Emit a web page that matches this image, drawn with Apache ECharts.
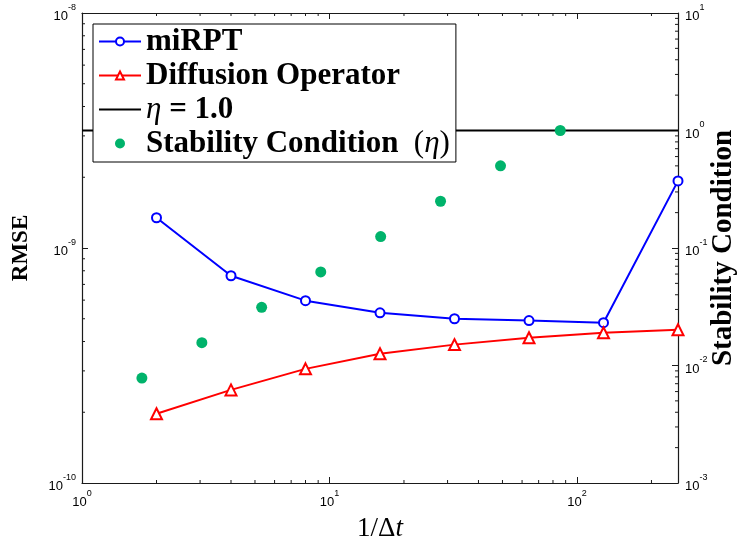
<!DOCTYPE html>
<html><head><meta charset="utf-8">
<script src="https://cdn.jsdelivr.net/npm/echarts@6/dist/echarts.min.js"></script>
<style>html,body{margin:0;padding:0;background:#fff}#c{width:741px;height:539px}</style>
</head><body><div id="c"></div>
<script>
// ---- data ----
const dtInv = [2, 4, 8, 16, 32, 64, 128, 256];
const rmseMiRPT = [1.345e-9, 7.62e-10, 5.97e-10, 5.30e-10, 5.00e-10, 4.91e-10, 4.81e-10, 1.93e-9];
const rmseDiffusion = [1.97e-10, 2.49e-10, 3.06e-10, 3.55e-10, 3.88e-10, 4.15e-10, 4.36e-10, 4.49e-10];
const etaX = [1.746, 3.05, 5.32, 9.22, 16.1, 28.1, 49.1, 85.6];
const etaValues = [0.0078125, 0.015625, 0.03125, 0.0625, 0.125, 0.25, 0.5, 1.0];
const etaLineX = [1, 256];
const etaLineValue = 1.0;
const xRange = [1, 256];
const leftRange = [1e-10, 1e-8];
const rightRange = [1e-3, 10];
const minorMultipliers = [2, 3, 4, 5, 6, 7, 8, 9];

function minorTicks(range) {
  const out = [];
  const e0 = Math.floor(Math.log10(range[0]) + 1e-9);
  const e1 = Math.ceil(Math.log10(range[1]) - 1e-9);
  for (let e = e0; e < e1; e++) {
    minorMultipliers.forEach(m => {
      const v = m * Math.pow(10, e);
      if (v > range[0] && v < range[1]) out.push(v);
    });
  }
  return out;
}

function powLabel(v) {
  const l = Math.log10(v);
  const e = Math.round(l);
  if (Math.abs(l - e) > 1e-6) return '';
  return '{b|10}{s|' + e + '}';
}
const labelRich = {
  b: { fontFamily: 'Liberation Sans', fontSize: 13, color: '#000', lineHeight: 20, verticalAlign: 'bottom' },
  s: { fontFamily: 'Liberation Sans', fontSize: 9, color: '#000', lineHeight: 20, verticalAlign: 'top' }
};
const axisLine = { show: true, lineStyle: { color: '#1a1a1a', width: 1.2 } };
const majorTick = { show: true, inside: true, length: 6, lineStyle: { color: '#1a1a1a', width: 1 } };

const chart = echarts.init(document.getElementById('c'));
const BLUE = '#0000ff', RED = '#ff0000', GREEN = '#00b36b';

function tickLine(x1, y1, x2, y2) {
  return { type: 'line', shape: { x1, y1, x2, y2 }, style: { stroke: '#1a1a1a', lineWidth: 1 } };
}

const legendFont = { fontFamily: 'Liberation Serif', fontSize: 31, lineHeight: 31, color: '#000' };

chart.setOption({
  animation: false,
  backgroundColor: '#fff',
  grid: { left: 82, right: 63, top: 13, bottom: 56, containLabel: false, outerBoundsMode: 'none' },
  legend: {
    data: ['miRPT', 'Diffusion Operator', { name: 'η = 1.0', itemStyle: { opacity: 0 } },
      { name: 'Stability Condition (η)', itemStyle: { opacity: 1 } }],
    orient: 'vertical', left: 93, top: 24,
    itemWidth: 42, itemHeight: 10, itemGap: 3,
    padding: [2, 6, 3, 5],
    borderColor: '#000', borderWidth: 1, backgroundColor: '#fff', borderRadius: 0,
    selectedMode: false,
    formatter: function (name) {
      if (name === 'η = 1.0') return '{i|η }{b|= 1.0}';
      if (name === 'Stability Condition (η)') return '{b|Stability Condition }{r| (}{i|η}{r|)}';
      return '{b|' + name + '}';
    },
    textStyle: {
      rich: {
        b: Object.assign({ fontWeight: 'bold' }, legendFont),
        i: Object.assign({ fontStyle: 'italic' }, legendFont),
        r: Object.assign({}, legendFont)
      }
    }
  },
  xAxis: [{
    type: 'log', logBase: 10, min: xRange[0], max: xRange[1],
    name: '{n|1/Δ}{t|t}', nameLocation: 'middle', nameGap: 32,
    nameTextStyle: { rich: {
      n: { fontFamily: 'Liberation Serif', fontSize: 27, color: '#000' },
      t: { fontFamily: 'Liberation Serif', fontStyle: 'italic', fontSize: 27, color: '#000' } } },
    axisLine, axisTick: majorTick, splitLine: { show: false }, minorTick: { show: false },
    axisLabel: { formatter: powLabel, rich: labelRich, margin: 6, showMaxLabel: false }
  }, {
    type: 'log', logBase: 10, min: xRange[0], max: xRange[1], position: 'top',
    axisLine, axisTick: majorTick, splitLine: { show: false }, axisLabel: { show: false }
  }],
  yAxis: [{
    type: 'log', logBase: 10, min: leftRange[0], max: leftRange[1], position: 'left',
    name: 'RMSE', nameLocation: 'middle', nameGap: 49, nameRotate: 90,
    nameTextStyle: { fontFamily: 'Liberation Serif', fontWeight: 'bold', fontSize: 23, color: '#000' },
    axisLine, axisTick: majorTick, splitLine: { show: false },
    axisLabel: { formatter: powLabel, rich: labelRich, margin: 6 }
  }, {
    type: 'log', logBase: 10, min: rightRange[0], max: rightRange[1], position: 'right',
    name: 'Stability Condition', nameLocation: 'middle', nameGap: 31, nameRotate: 90,
    nameMoveOverlap: false,
    nameTextStyle: { fontFamily: 'Liberation Serif', fontWeight: 'bold', fontSize: 29, color: '#000' },
    axisLine, axisTick: majorTick, splitLine: { show: false },
    axisLabel: { formatter: powLabel, rich: labelRich, margin: 7 }
  }],
  series: [
    {
      name: 'η = 1.0', type: 'line', xAxisIndex: 0, yAxisIndex: 1,
      data: etaLineX.map(x => [x, etaLineValue]),
      symbol: 'none', lineStyle: { color: '#000', width: 2 }, itemStyle: { color: '#000' }, z: 3
    },
    {
      name: 'Stability Condition (η)', type: 'scatter', xAxisIndex: 0, yAxisIndex: 1,
      data: etaX.map((x, i) => [x, etaValues[i]]),
      symbol: 'circle', symbolSize: 11, itemStyle: { color: GREEN, opacity: 1 }, z: 4
    },
    {
      name: 'miRPT', type: 'line', xAxisIndex: 0, yAxisIndex: 0,
      data: dtInv.map((x, i) => [x, rmseMiRPT[i]]),
      symbol: 'emptyCircle', symbolSize: 9,
      lineStyle: { color: BLUE, width: 2 }, itemStyle: { color: BLUE, borderWidth: 1.6 }, z: 5
    },
    {
      name: 'Diffusion Operator', type: 'line', xAxisIndex: 0, yAxisIndex: 0,
      data: dtInv.map((x, i) => [x, rmseDiffusion[i]]),
      symbol: 'emptyTriangle', symbolSize: 11,
      lineStyle: { color: RED, width: 2 }, itemStyle: { color: RED, borderWidth: 1.6 }, z: 5
    },
    {
      name: 'xMinor', type: 'custom', xAxisIndex: 0, yAxisIndex: 0, silent: true, z: 2,
      data: minorTicks(xRange).map(v => [v, leftRange[0]]),
      renderItem: function (params, api) {
        const p = api.coord([api.value(0), api.value(1)]);
        const cs = params.coordSys;
        return { type: 'group', children: [
          tickLine(p[0], cs.y + cs.height, p[0], cs.y + cs.height - 3),
          tickLine(p[0], cs.y, p[0], cs.y + 3)
        ] };
      }
    },
    {
      name: 'yMinorLeft', type: 'custom', xAxisIndex: 0, yAxisIndex: 0, silent: true, z: 2,
      data: minorTicks(leftRange).map(v => [xRange[0], v]),
      renderItem: function (params, api) {
        const p = api.coord([api.value(0), api.value(1)]);
        const cs = params.coordSys;
        return tickLine(cs.x, p[1], cs.x + 3, p[1]);
      }
    },
    {
      name: 'yMinorRight', type: 'custom', xAxisIndex: 0, yAxisIndex: 1, silent: true, z: 2,
      data: minorTicks(rightRange).map(v => [xRange[0], v]),
      renderItem: function (params, api) {
        const p = api.coord([api.value(0), api.value(1)]);
        const cs = params.coordSys;
        return tickLine(cs.x + cs.width - 3, p[1], cs.x + cs.width, p[1]);
      }
    }
  ]
});
</script></body></html>
